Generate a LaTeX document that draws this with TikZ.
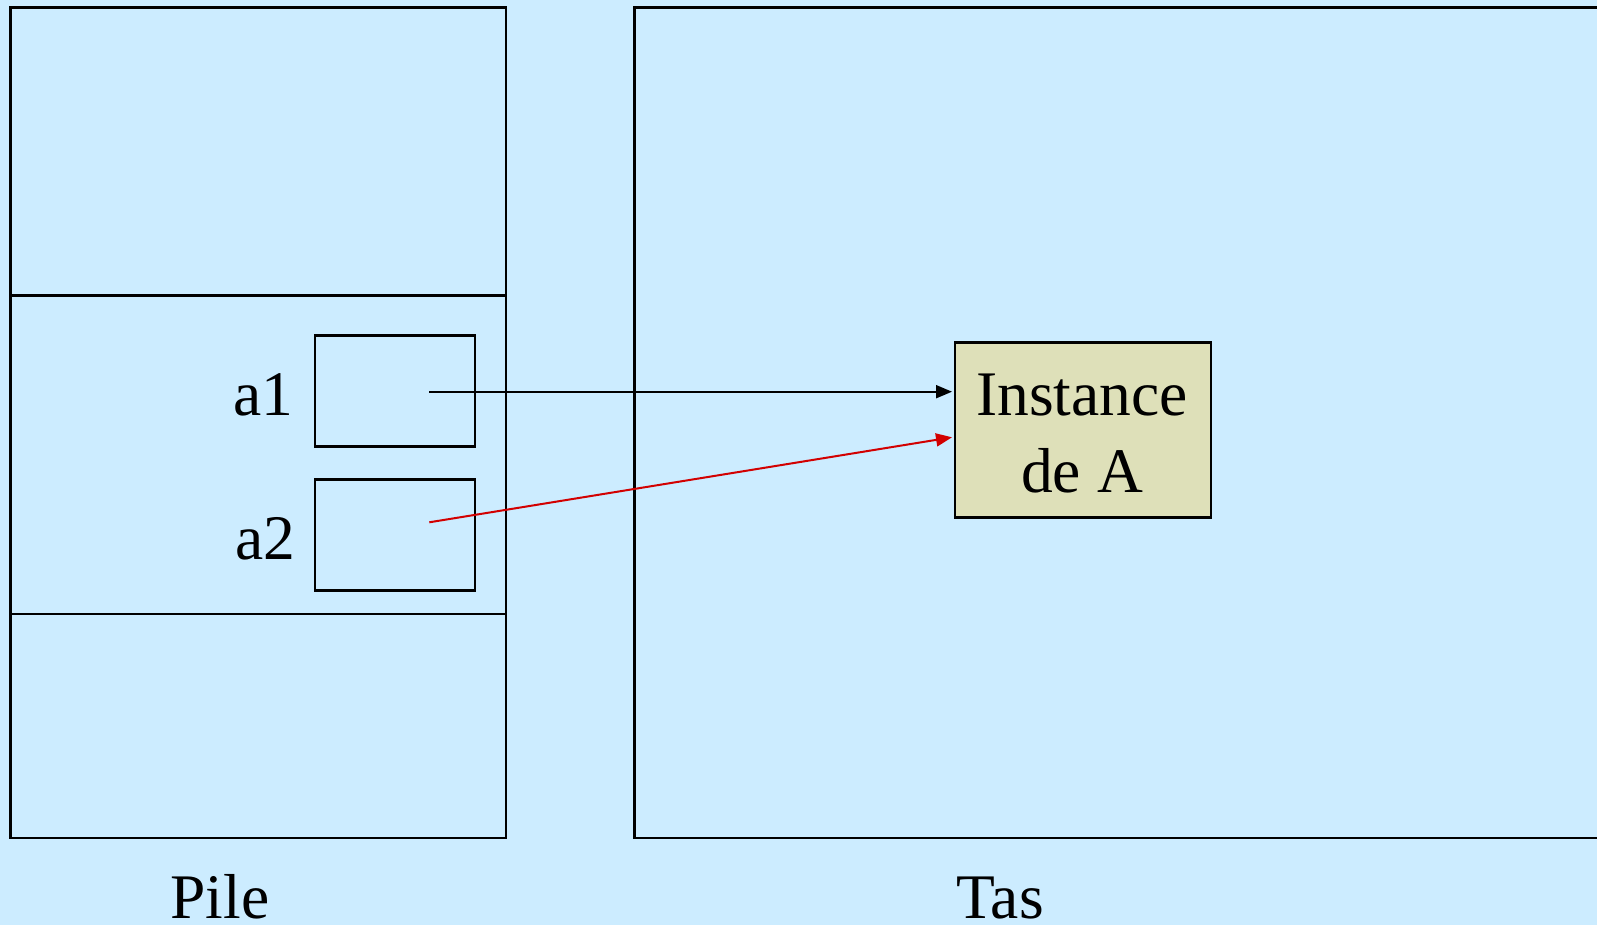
\documentclass[tikz,border=0pt]{standalone}
\usepackage{fontspec}
\setmainfont{Liberation Serif}
\usetikzlibrary{arrows.meta,calc}
\definecolor{bgblue}{RGB}{204,236,255}
\definecolor{instfill}{RGB}{222,224,185}
\definecolor{arrred}{RGB}{210,0,0}
\begin{document}
\begin{tikzpicture}[x=1pt,y=-1pt,
  frame/.style={draw=black,line width=2.2pt},
  cell/.style={draw=black,line width=2.2pt,minimum width=160pt,minimum height=111pt,inner sep=0pt},
  inst/.style={draw=black,line width=2.2pt,fill=instfill,minimum width=256pt,minimum height=175pt,inner sep=0pt,align=center,font=\fontsize{63.5}{77}\selectfont},
  lbl/.style={anchor=base,inner sep=0pt,font=\fontsize{63.5}{74}\selectfont},
  ptr/.style={line width=2pt,-{Triangle[length=16pt,width=13pt]}}]
\fill[bgblue] (0,0) rectangle (1597,925);
\useasboundingbox (0,0) rectangle (1597,925);
% Pile
\draw[frame] (10.5,7.5) rectangle (506,838);
\draw[frame] (10.5,295.5) -- (506,295.5);
\draw[frame] (10.5,614) -- (506,614);
% Tas
\draw[frame] (1605,7.5) -- (634.5,7.5) -- (634.5,838) -- (1605,838);
% cells
\node[cell] (c1) at (394.8,391) {};
\node[cell] (c2) at (394.8,535) {};
\node[lbl] (la1) at (263.5,415.5) {a1};
\node[lbl] (la2) at (265,559) {a2};
% instance
\node[inst] (inst) at (1083,430) {};
\node[lbl] (t1) at (1082,415) {Instance};
\node[lbl] (t2) at (1082,492) {de A};
% labels
\node[lbl] (pile) at (220,918) {Pile};
\node[lbl] (tas) at (1000,918) {Tas};
% pointers
\coordinate (p1) at (429.3,391.7);
\coordinate (p2) at (429.3,522.3);
\coordinate (e1) at (952,391.7);
\coordinate (e2) at (952,437.3);
\draw[ptr] (p1) -- (e1);
\draw[ptr,draw=arrred,fill=arrred] (p2) -- (e2);
\end{tikzpicture}
\end{document}
